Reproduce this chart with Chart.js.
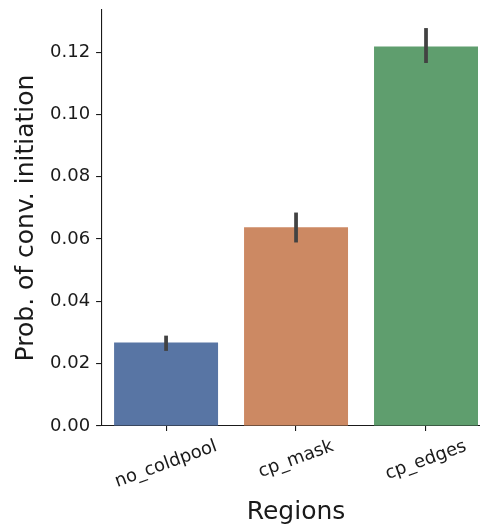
<!DOCTYPE html>
<html>
<head>
  <title>Prob. of conv. initiation</title>
  <script src="https://cdn.jsdelivr.net/npm/chart.js"></script>
  <style>
    html, body {
      margin: 0;
      padding: 0;
      background: #fff;
      overflow: hidden;
      width: 480px;
      height: 524px;
    }
    canvas {
      display: block;
    }
  </style>
</head>
<body>
  <canvas id="probChart" width="500" height="524"></canvas>

  <script>
    // data
    const regions = ['no_coldpool', 'cp_mask', 'cp_edges'];
    const probValues = [0.0268, 0.0638, 0.1218];
    const errLow = [0.0241, 0.0589, 0.1165];
    const errHigh = [0.0290, 0.0685, 0.1277];
    const barColors = ['#5875a4', '#cc8963', '#5f9e6e'];
    const yTicks = [0, 0.02, 0.04, 0.06, 0.08, 0.10, 0.12];
    const yTickLabels = ['0.00', '0.02', '0.04', '0.06', '0.08', '0.10', '0.12'];

    const fontFamily = '"DejaVu Sans", sans-serif';
    const inkColor = '#1a1a1a';

    // seaborn-style error bars drawn from the y scale
    const errorBars = {
      id: 'errorBars',
      afterDatasetsDraw(chart) {
        const ctx = chart.ctx;
        const xs = chart.scales.x;
        const ys = chart.scales.y;
        ctx.save();
        ctx.strokeStyle = '#424242';
        ctx.lineWidth = 3.75;
        ctx.lineCap = 'butt';
        regions.forEach((r, i) => {
          const x = xs.getPixelForValue(i);
          ctx.beginPath();
          ctx.moveTo(x, ys.getPixelForValue(errLow[i]));
          ctx.lineTo(x, ys.getPixelForValue(errHigh[i]));
          ctx.stroke();
        });
        ctx.restore();
      }
    };

    // rotated category labels, centred under each tick (matplotlib style)
    const rotatedLabels = {
      id: 'rotatedLabels',
      afterDraw(chart) {
        const ctx = chart.ctx;
        const xs = chart.scales.x;
        const angle = 20 * Math.PI / 180;
        ctx.save();
        ctx.font = '18px ' + fontFamily;
        ctx.fillStyle = inkColor;
        ctx.textAlign = 'center';
        ctx.textBaseline = 'middle';
        regions.forEach((r, i) => {
          const x = xs.getPixelForValue(i);
          const w = ctx.measureText(r).width;
          const h = 21;
          const boxH = w * Math.sin(angle) + h * Math.cos(angle);
          const cy = chart.chartArea.bottom + 10 + boxH / 2;
          ctx.save();
          ctx.translate(x, cy);
          ctx.rotate(-angle);
          ctx.fillText(r, 0, 0);
          ctx.restore();
        });
        ctx.restore();
      }
    };

    const ctx = document.getElementById('probChart').getContext('2d');

    new Chart(ctx, {
      type: 'bar',
      data: {
        labels: regions,
        datasets: [{
          data: probValues,
          backgroundColor: barColors,
          borderWidth: 0,
          barPercentage: 0.8,
          categoryPercentage: 1.0
        }]
      },
      options: {
        responsive: false,
        animation: false,
        devicePixelRatio: 1,
        layout: {
          padding: { top: 10, right: 9, bottom: 0, left: 0 }
        },
        plugins: {
          legend: { display: false },
          tooltip: { enabled: false }
        },
        scales: {
          x: {
            type: 'category',
            offset: true,
            grid: {
              display: true,
              offset: false,
              drawOnChartArea: false,
              drawTicks: true,
              tickLength: 5,
              color: inkColor,
              lineWidth: 1.1
            },
            border: { display: true, color: inkColor, width: 1.1 },
            ticks: { display: false },
            title: {
              display: true,
              text: 'Regions',
              color: inkColor,
              font: { family: fontFamily, size: 25 },
              padding: { top: 66, bottom: -3 }
            }
          },
          y: {
            min: 0,
            max: 0.1335,
            afterBuildTicks(scale) {
              scale.ticks = yTicks.map(v => ({ value: v }));
            },
            grid: {
              display: true,
              drawOnChartArea: false,
              drawTicks: true,
              tickLength: 5,
              color: inkColor,
              lineWidth: 1.1
            },
            border: { display: true, color: inkColor, width: 1.1 },
            ticks: {
              padding: 6,
              color: inkColor,
              font: { family: fontFamily, size: 18, lineHeight: 0.4 },
              callback: function(value, index) {
                return yTickLabels[index];
              }
            },
            title: {
              display: true,
              text: 'Prob. of conv. initiation',
              color: inkColor,
              font: { family: fontFamily, size: 25 },
              padding: { top: 11, bottom: 3 }
            }
          }
        }
      },
      plugins: [errorBars, rotatedLabels]
    });
  </script>
</body>
</html>
